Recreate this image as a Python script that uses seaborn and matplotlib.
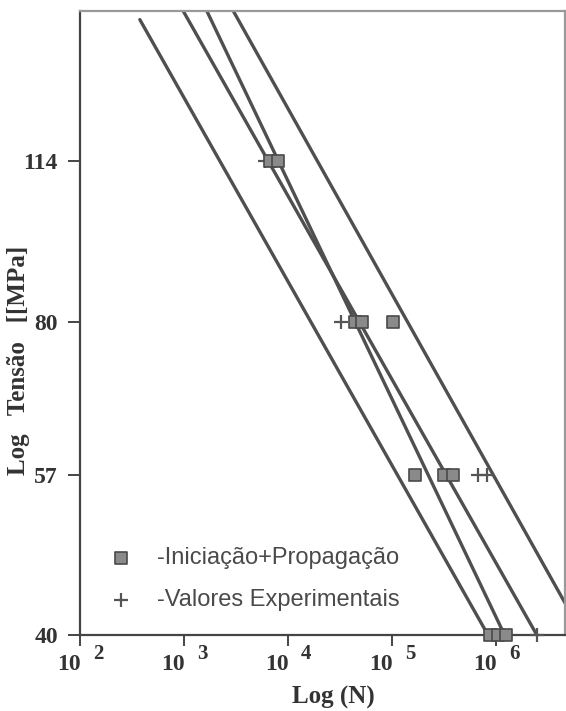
import numpy as np
import pandas as pd
import seaborn as sns
import matplotlib.pyplot as plt
from matplotlib.ticker import NullLocator
from matplotlib.transforms import blended_transform_factory, offset_copy

# Basquin fits: sigma = coef * N**expo
curve_ids = ["Curva 1", "Curva 2", "Curva 3", "Curva 4"]
curve_coef = [444.6, 535.8, 751.0, 662.0]
curve_expo = [-0.1766, -0.1763, -0.2094, -0.1783]
curve_sigma_max = [156.0, 159.0, 159.0, 159.0]
curve_sigma_min = [40.0, 40.0, 40.0, 40.0]

# Iniciação + propagação (predicted lives)
ip_N = [6.7e3, 8.0e3, 4.4e4, 5.15e4, 1.02e5, 1.66e5, 3.16e5, 3.86e5, 8.75e5, 1.05e6, 1.25e6]
ip_sigma = [114, 114, 80, 80, 80, 57, 57, 57, 40, 40, 40]

# Experimental lives
exp_N = [6.0e3, 3.24e4, 6.7e5, 8.2e5, 2.5e6]
exp_sigma = [114, 80, 57, 57, 40]

stress_ticks = [40, 57, 80, 114]
cycle_exponents = [2, 3, 4, 5, 6]
legend_labels = ["-Iniciação+Propagação", "-Valores Experimentais"]

sns.set_theme(style="white")
plt.rcParams["font.family"] = ["Liberation Serif", "DejaVu Serif"]

fig = plt.figure(figsize=(5.66, 7.11), dpi=100)
ax = fig.add_axes([0.1413, 0.1069, 0.8569, 0.8776])

rows = []
for cid, a, b, smax, smin in zip(curve_ids, curve_coef, curve_expo,
                                   curve_sigma_max, curve_sigma_min):
    for s in (smax, smin):
        rows.append({"curva": cid, "sigma": s, "N": (s / a) ** (1.0 / b)})
lines_df = pd.DataFrame(rows)

sns.lineplot(data=lines_df, x="N", y="sigma", units="curva", estimator=None,
             sort=False, color="#4f4f4f", linewidth=2.4, legend=False, ax=ax,
             zorder=2)

sns.scatterplot(x=exp_N, y=exp_sigma, marker="+", s=110, color="#555555",
                linewidth=1.6, ax=ax, label=legend_labels[1], zorder=3,
                clip_on=False)
sns.scatterplot(x=ip_N, y=ip_sigma, marker="s", s=80, color="#8a8a8a",
                edgecolor="#4a4a4a", linewidth=1.2, ax=ax,
                label=legend_labels[0], zorder=4, clip_on=False)

ax.set_xscale("log")
ax.set_yscale("log")
ax.set_xlim(100, 4.6e6)
ax.set_ylim(40, 159)
ax.set_xlabel("")
ax.set_ylabel("")

ax.set_yticks(stress_ticks)
ax.set_yticklabels([str(v) for v in stress_ticks], fontsize=17,
                   fontweight="bold", color="#333333")
ax.yaxis.set_minor_locator(NullLocator())
ax.set_xticks([10.0 ** e for e in cycle_exponents])
ax.set_xticklabels([])
ax.xaxis.set_minor_locator(NullLocator())

ax.tick_params(axis="y", direction="out", length=9, width=1.4,
               color="#444444", pad=7, left=True)
ax.tick_params(axis="x", direction="out", length=8, width=1.4,
               color="#444444", bottom=True)

for side in ("left", "bottom"):
    ax.spines[side].set_color("#444444")
    ax.spines[side].set_linewidth(1.6)
for side in ("top", "right"):
    ax.spines[side].set_color("#9a9a9a")
    ax.spines[side].set_linewidth(1.6)

# "10" with a raised exponent under each decade
trans = blended_transform_factory(ax.transData, ax.transAxes)
for e in cycle_exponents:
    base_t = offset_copy(trans, fig=fig, x=1, y=-19, units="dots")
    ax.text(10.0 ** e, 0, "10", transform=base_t, ha="right", va="top",
            fontsize=17, fontweight="bold", color="#333333")
    exp_t = offset_copy(trans, fig=fig, x=13, y=-9, units="dots")
    ax.text(10.0 ** e, 0, str(e), transform=exp_t, ha="left", va="top",
            fontsize=15, fontweight="bold", color="#333333")

fig.text(333 / 566, 1 - 697 / 711, "Log (N)", ha="center", va="center",
         fontsize=18, fontweight="bold", color="#333333")
fig.text(19 / 566, 1 - 360 / 711, "Log   Tensão   [[MPa]", ha="center",
         va="center", rotation=90, fontsize=18, fontweight="bold",
         color="#333333")

handles, labels = ax.get_legend_handles_labels()
order = [labels.index(l) for l in legend_labels]
ax.legend([handles[i] for i in order], [labels[i] for i in order],
          loc="upper left", bbox_to_anchor=((109 - 80) / 485, (635 - 547) / 624),
          frameon=False, borderpad=0, borderaxespad=0, handlelength=1.0,
          handletextpad=1.05, labelspacing=0.85,
          prop={"family": "Liberation Sans", "size": 17},
          labelcolor="#4a4a4a")

fig.savefig("out.png", dpi=100, facecolor="white")
